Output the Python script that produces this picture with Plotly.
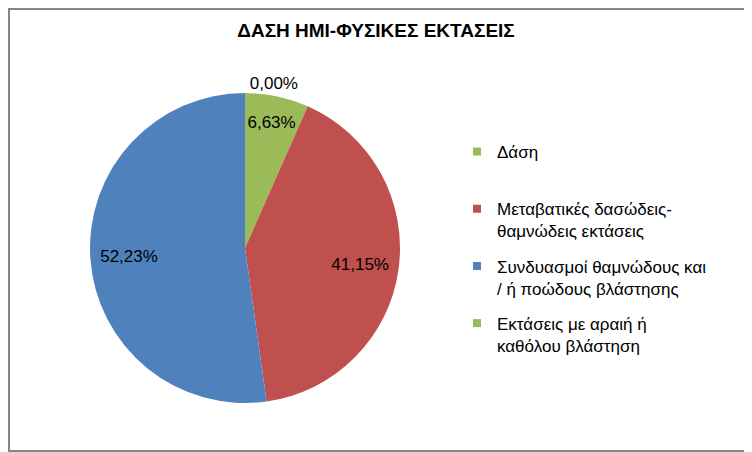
import plotly.graph_objects as go

title = "ΔΑΣΗ ΗΜΙ-ΦΥΣΙΚΕΣ ΕΚΤΑΣΕΙΣ"
labels = [
    "Δάση",
    "Μεταβατικές δασώδεις-<br>θαμνώδεις εκτάσεις",
    "Συνδυασμοί θαμνώδους και<br>/ ή ποώδους βλάστησης",
    "Εκτάσεις με αραιή ή<br>καθόλου βλάστηση",
]
values = [6.63, 41.15, 52.23, 0.00]
colors = ["#9BBB59", "#C0504D", "#4F81BD", "#9BBB59"]

# the page body adds an 8px margin, so the figure is a bit smaller
W, H = 744, 452 - 8
FONT = "Liberation Sans"
pct = "%{value:.2f}%"

pie_dom = dict(x=[82 / W, 392 / W], y=[1 - 395 / H, 1 - 85 / H])

fig = go.Figure()

# full pie: colours + the small slice labels
fig.add_trace(go.Pie(
    labels=labels,
    values=values,
    sort=False,
    direction="clockwise",
    rotation=0,
    marker=dict(colors=colors, line=dict(width=0)),
    texttemplate=[pct, "", "", pct],
    textposition=["inside", "inside", "inside", "outside"],
    insidetextorientation="horizontal",
    textfont=dict(family=FONT, size=17, color="black"),
    showlegend=False,
    domain=pie_dom,
    hoverinfo="label+value",
))

# transparent ring on top: pushes the big labels out towards the rim like Excel
fig.add_trace(go.Pie(
    labels=labels,
    values=values,
    sort=False,
    direction="clockwise",
    rotation=0,
    hole=0.5,
    marker=dict(colors=["rgba(0,0,0,0)"] * 4, line=dict(width=0)),
    texttemplate=["", pct, pct, ""],
    textposition="inside",
    insidetextorientation="horizontal",
    textfont=dict(family=FONT, size=17, color="black"),
    showlegend=False,
    domain=pie_dom,
    hoverinfo="skip",
))

# legend entries as separate items so the spacing can match
for i, (lab, col) in enumerate(zip(labels, colors)):
    name = lab if "<br>" in lab else lab + "<br> "
    fig.add_trace(go.Scatter(
        x=[None], y=[None],
        mode="markers",
        marker=dict(symbol="square", size=8, color=col),
        name=name,
        legendgroup=str(i),
        showlegend=True,
    ))

fig.update_layout(
    width=W, height=H,
    margin=dict(l=0, r=0, t=0, b=0),
    paper_bgcolor="white",
    plot_bgcolor="white",
    separators=",.",
    title=dict(
        text="<b>" + title + "</b>",
        x=0.5 - 4 / W, xanchor="center",
        y=1 - 22 / H, yanchor="middle",
        font=dict(family=FONT, size=19, color="black"),
    ),
    xaxis=dict(visible=False),
    yaxis=dict(visible=False),
    legend=dict(
        x=449 / W, xanchor="left",
        y=1 - 126 / H, yanchor="top",
        font=dict(family=FONT, size=17, color="black"),
        tracegroupgap=10,
        valign="top",
        itemwidth=30,
        bgcolor="rgba(0,0,0,0)",
    ),
    shapes=[dict(
        type="rect", xref="paper", yref="paper",
        x0=1 / W, x1=(W - 2) / W, y0=1 / H, y1=1 - 1 / H,
        line=dict(color="#868686", width=2),
        fillcolor="rgba(0,0,0,0)",
    )],
)

fig.write_html("out.html")
